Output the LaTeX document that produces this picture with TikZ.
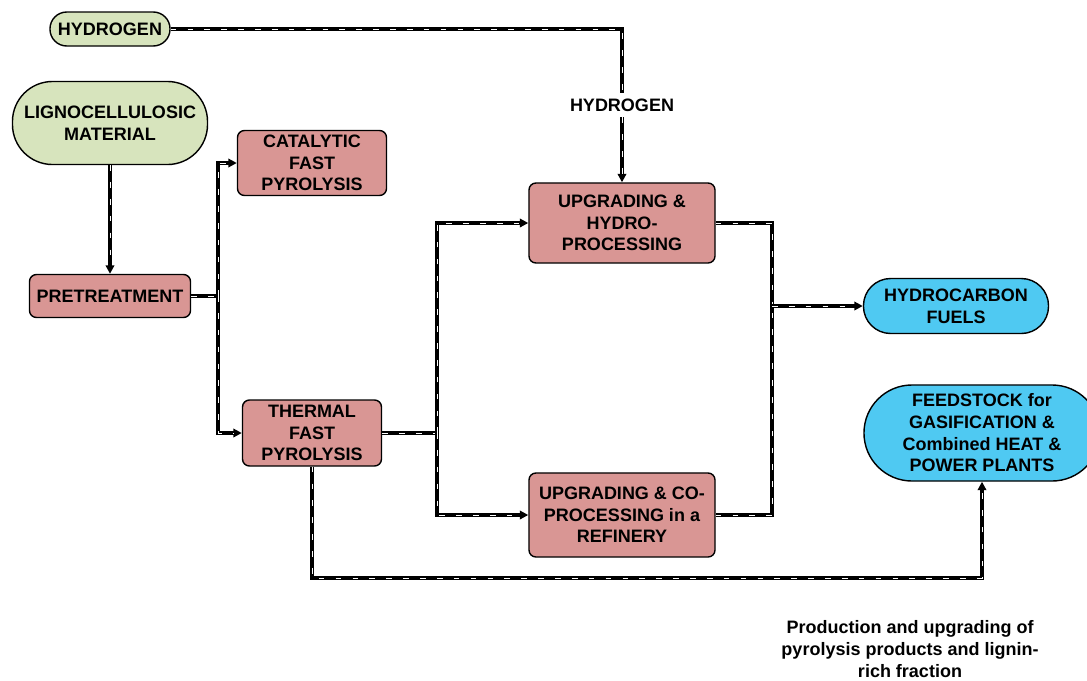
\documentclass[tikz,border=0pt]{standalone}
\usepackage{fontspec}
\setmainfont{Liberation Sans}
\usetikzlibrary{arrows.meta}
\definecolor{feedgreen}{HTML}{D7E4BD}
\definecolor{procred}{HTML}{D99694}
\definecolor{outblue}{HTML}{4FC9F2}

\begin{document}
\begin{tikzpicture}[x=0.025cm, y=-0.025cm,
  txt/.style={font=\bfseries\fontsize{12.8}{15.4}\selectfont, align=center, inner sep=0pt},
  box/.style={txt, draw, line width=1pt, rounded corners=5pt, fill=procred},
  feedb/.style={txt, draw, line width=1pt, fill=feedgreen},
  outb/.style={txt, draw, line width=1pt, fill=outblue},
  link/.style={line width=2.2pt, postaction={draw=white, line width=0.7pt, dash pattern=on 4pt off 8pt}},
  flow/.style={line width=2.2pt, -{Triangle[length=6pt,width=6pt]},
               postaction={draw=white, line width=0.7pt, dash pattern=on 4pt off 8pt, -, shorten >=6pt}},
]
  \useasboundingbox (0,0) rectangle (1087,680);
  % feeds
  \node[feedb, rounded corners=0.42cm, minimum width=3cm, minimum height=0.85cm] (hydrogen) at (110,29) {HYDROGEN};
  \node[feedb, rounded corners=1cm, minimum width=4.875cm, minimum height=2.075cm] (ligno) at (110,123) {LIGNOCELLULOSIC\\ MATERIAL};
  % processes
  \node[box, minimum width=4.025cm, minimum height=1.075cm] (pretreat) at (110,296) {PRETREATMENT};
  \node[box, minimum width=3.725cm, minimum height=1.625cm] (catalytic) at (312,163) {CATALYTIC\\ FAST\\ PYROLYSIS};
  \node[box, minimum width=3.475cm, minimum height=1.65cm] (thermal) at (312,433) {THERMAL\\ FAST\\ PYROLYSIS};
  \node[box, minimum width=4.65cm, minimum height=2cm] (hydroproc) at (622,223) {UPGRADING \&\\ HYDRO-\\ PROCESSING};
  \node[box, minimum width=4.65cm, minimum height=2.1cm] (coproc) at (622,515) {UPGRADING \& CO-\\ PROCESSING in a\\ REFINERY};
  % products
  \node[outb, rounded corners=0.68cm, minimum width=4.625cm, minimum height=1.375cm] (fuels) at (956,306) {HYDROCARBON\\ FUELS};
  \node[outb, rounded corners=1.2cm, minimum width=5.9cm, minimum height=2.4cm] (feedstock) at (982,433) {FEEDSTOCK for\\ GASIFICATION \&\\ Combined HEAT \&\\ POWER PLANTS};
  \node[txt, inner sep=4pt] (h2lbl) at (622,105) {HYDROGEN};
  \node[txt] (caption) at (910,649) {Production and upgrading of\\ pyrolysis products and lignin-\\ rich fraction};
  % junctions
  \coordinate (split1) at (218,296);
  \coordinate (split2) at (437,433);
  \coordinate (merge) at (772,306);
  \coordinate (low) at (312,578);
  % connectors
  \draw[link] (hydrogen.east) -| (h2lbl.north);
  \draw[flow] (h2lbl.south) -- (hydroproc.north);
  \draw[flow] (ligno.south) -- (pretreat.north);
  \draw[link] (pretreat.east) -- (split1);
  \draw[flow] (split1) |- (catalytic.west);
  \draw[flow] (split1) |- (thermal.west);
  \draw[link] (thermal.east) -- (split2);
  \draw[flow] (split2) |- (hydroproc.west);
  \draw[flow] (split2) |- (coproc.west);
  \draw[link] (hydroproc.east) -| (merge);
  \draw[link] (coproc.east) -| (merge);
  \draw[flow] (merge) -- (fuels.west);
  \draw[flow] (thermal.south) -- (low) -| (feedstock.south);
\end{tikzpicture}
\end{document}
